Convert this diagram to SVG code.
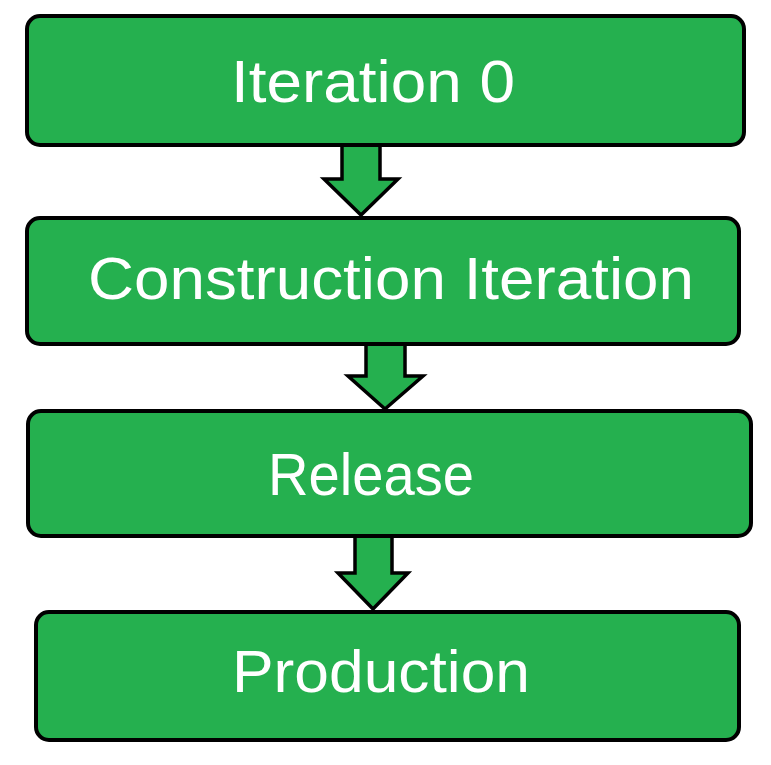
<svg xmlns="http://www.w3.org/2000/svg" width="771" height="765" viewBox="0 0 771 765">
<style>
.box{fill:#25b04f;stroke:#000;stroke-width:4}
.arr{fill:#25b04f;stroke:#000;stroke-width:3.5;stroke-linejoin:miter}
.lbl{font-family:"Liberation Sans",Arial,sans-serif;font-size:60px;fill:#fff}
</style>
<rect width="771" height="765" fill="#fff"/>
<g id="connectors">
<path class="arr" d="M342,145 L380,145 L380,179 L398,179 L361,215 L324,179 L342,179 Z"/>
<path class="arr" d="M366,344 L405,344 L405,376 L423,376 L385,409 L348,376 L366,376 Z"/>
<path class="arr" d="M355,536 L392,536 L392,573 L408,573 L373,609 L338,573 L355,573 Z"/>
</g>
<g id="node1">
<rect class="box" x="27" y="16" width="717" height="129" rx="13"/>
<text class="lbl" x="373" y="102" text-anchor="middle" textLength="284" lengthAdjust="spacingAndGlyphs">Iteration 0</text>
</g>
<g id="node2">
<rect class="box" x="27" y="218" width="712" height="126" rx="13"/>
<text class="lbl" x="391" y="299" text-anchor="middle" textLength="606" lengthAdjust="spacingAndGlyphs">Construction Iteration</text>
</g>
<g id="node3">
<rect class="box" x="28" y="411" width="723" height="125" rx="13"/>
<text class="lbl" x="371" y="495" text-anchor="middle" textLength="206" lengthAdjust="spacingAndGlyphs">Release</text>
</g>
<g id="node4">
<rect class="box" x="36" y="612" width="703" height="128" rx="13"/>
<text class="lbl" x="381" y="692" text-anchor="middle" textLength="298" lengthAdjust="spacingAndGlyphs">Production</text>
</g>
</svg>
